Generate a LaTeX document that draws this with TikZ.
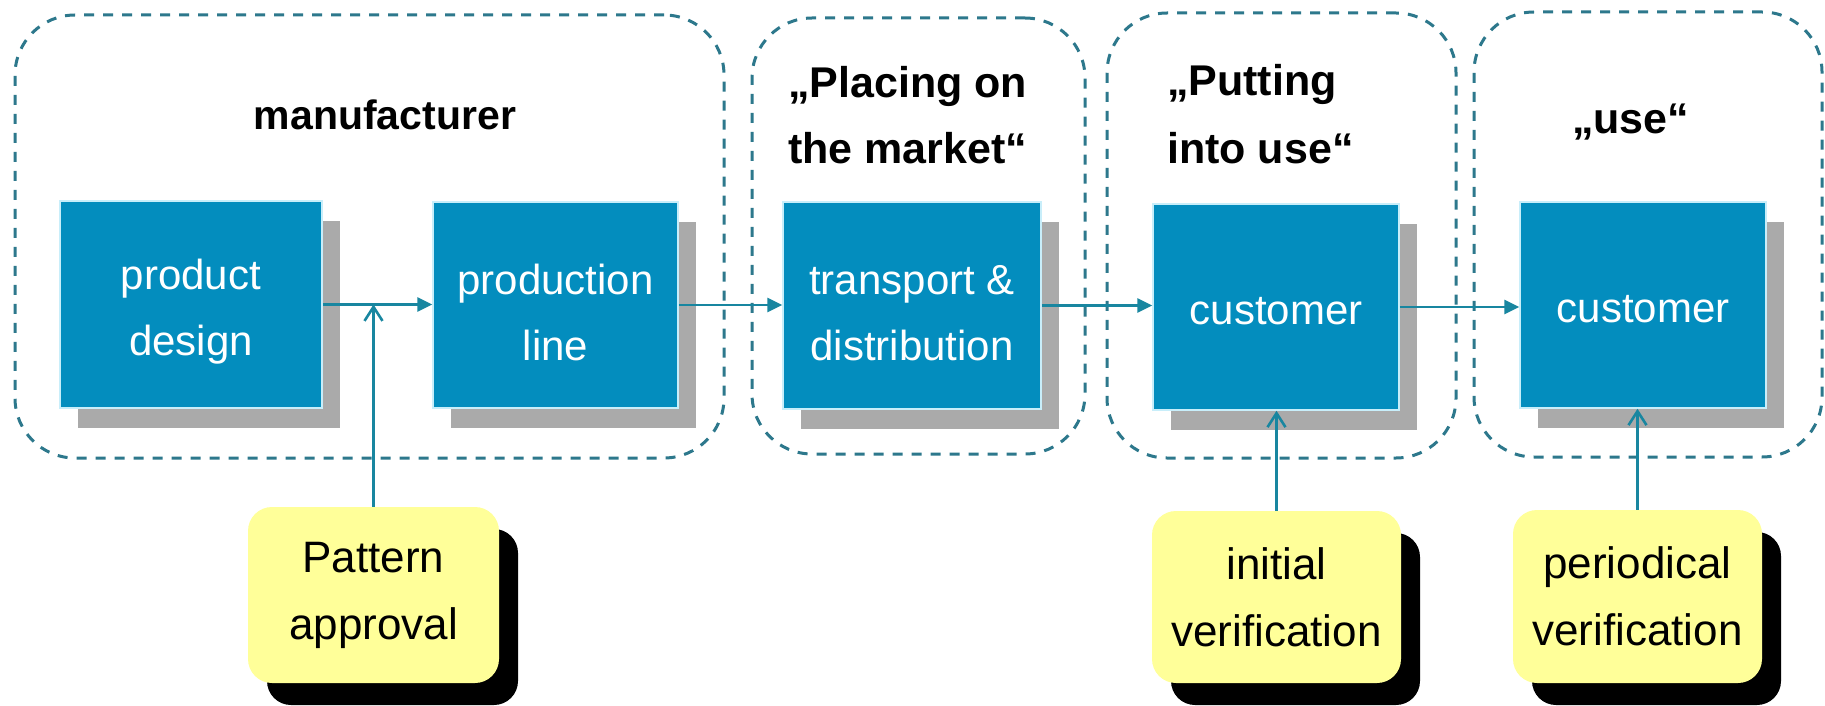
\documentclass[tikz,border=0pt]{standalone}
\usepackage{fontspec}
\setmainfont{Liberation Sans}
\usetikzlibrary{arrows.meta,shadows}

\definecolor{flowblue}{RGB}{3,141,190}
\definecolor{edgecyan}{RGB}{200,238,250}
\definecolor{shadowgray}{RGB}{170,170,170}
\definecolor{notice}{RGB}{255,255,153}
\definecolor{framecol}{RGB}{45,120,140}
\definecolor{arrowcol}{RGB}{24,134,160}

% invisible rule that pushes a text block down inside its box
\newcommand\pushdown[1]{\rule{0pt}{#1}}

\begin{document}
\begin{tikzpicture}[x=1pt,y=-1pt,
  grp/.style={draw=framecol, line width=3pt, dash pattern=on 10pt off 9pt,
    rounded corners=60pt, inner sep=0pt},
  proc/.style={fill=flowblue, draw=edgecyan, line width=1.5pt, inner sep=0pt,
    text=white, align=center, font=\fontsize{42}{66}\selectfont,
    drop shadow={shadow xshift=18pt, shadow yshift=-20pt, fill=shadowgray, opacity=1}},
  check/.style={fill=notice, rounded corners=24pt, inner sep=0pt, align=center,
    font=\fontsize{44}{67}\selectfont,
    drop shadow={shadow xshift=19pt, shadow yshift=-22pt, fill=black, opacity=1}},
  head/.style={font=\bfseries\fontsize{43}{66}\selectfont, inner sep=0pt},
  flow/.style={draw=arrowcol, line width=2.6pt, -{Triangle[length=15pt,width=14pt]}},
  feed/.style={draw=arrowcol, line width=2.6pt, -{Straight Barb[length=14pt,width=18pt]}}
]
\useasboundingbox[fill=white] (0,0) rectangle (1825,706);

% dashed phase frames
\node[grp, minimum width=709pt, minimum height=443pt] (g1) at (369.5,236.5) {};
\node[grp, minimum width=333pt, minimum height=436pt] (g2) at (918.5,236) {};
\node[grp, minimum width=349pt, minimum height=445pt] (g3) at (1281.5,235.5) {};
\node[grp, minimum width=348pt, minimum height=445pt] (g4) at (1648,234.5) {};

% phase titles
\node[head, font=\bfseries\fontsize{41}{66}\selectfont, anchor=base] (hman) at (385,129) {manufacturer};
\node[head, anchor=base west] (hpl1) at (788,98) {„Placing on};
\node[head, anchor=base west] (hpl2) at (788,163) {the market“};
\node[head, anchor=base west] (hpu1) at (1167,96) {„Putting};
\node[head, anchor=base west] (hpu2) at (1167,163) {into use“};
\node[head, anchor=base west] (huse) at (1572,134) {„use“};

% process steps
\node[proc, minimum width=262pt, minimum height=207pt] (pd) at (191,304.5) {\pushdown{45pt}product\\design};
\node[proc, minimum width=245pt, minimum height=206pt] (pl) at (555.5,305) {\pushdown{45pt}production\\line};
\node[proc, minimum width=258pt, minimum height=207pt] (td) at (912,305.5) {\pushdown{45pt}transport \&\\distribution};
\node[proc, minimum width=246pt, minimum height=206pt] (c1) at (1276,307) {\pushdown{36pt}customer};
\node[proc, minimum width=246pt, minimum height=206pt] (c2) at (1643,305) {\pushdown{36pt}customer};

% legal checks
\node[check, minimum width=251pt, minimum height=176pt] (pa) at (373.5,595) {Pattern\\approval};
\node[check, minimum width=249pt, minimum height=172pt] (iv) at (1276.5,597) {initial\\verification};
\node[check, minimum width=249pt, minimum height=173pt] (pv) at (1637.5,596.5) {periodical\\verification};

% product flow
\draw[flow] (pd.east) -- (pd.east -| pl.west);
\draw[flow] (pl.east) -- (pl.east -| td.west);
\draw[flow] (td.east) -- (td.east -| c1.west);
\draw[flow] (c1.east) -- (c1.east -| c2.west);

% checks feeding in
\draw[feed] (pa.north) -- (pa.north |- pd.east);
\draw[feed] (iv.north) -- (iv.north |- c1.south);
\draw[feed] (pv.north) -- (pv.north |- c2.south);
\end{tikzpicture}
\end{document}
